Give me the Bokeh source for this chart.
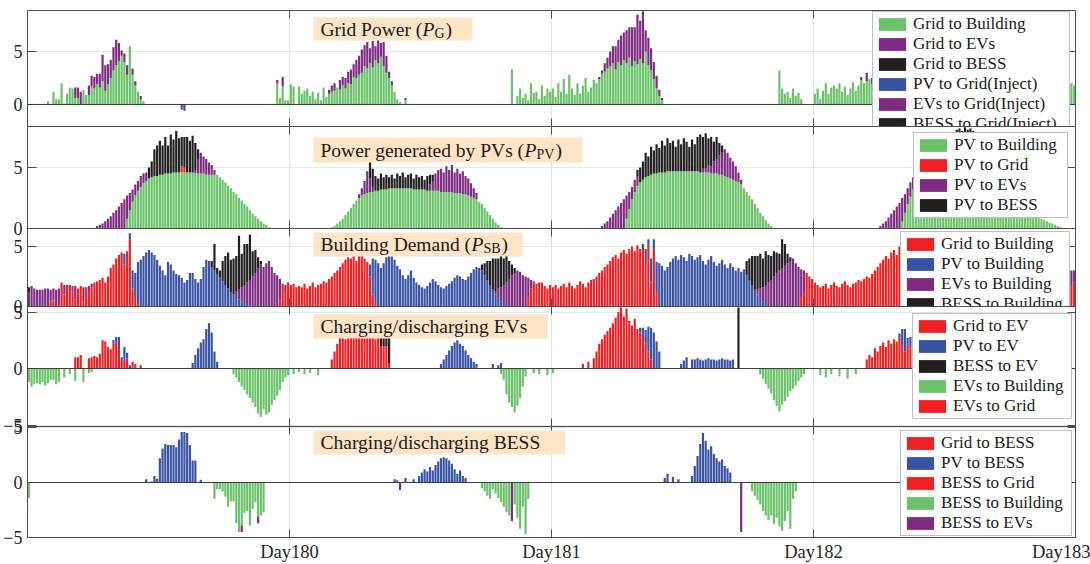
import numpy as np
from bokeh.plotting import figure
from bokeh.layouts import column
from bokeh.models import (ColumnDataSource, Legend, LegendItem, FixedTicker, LinearAxis,
                          Label, Span, Range1d, BoxAnnotation)
from bokeh.embed import file_html
from bokeh.resources import INLINE

# ---------------------------------------------------------------------------
# Time axis: 15-minute steps from Day179 00:00 to Day183 00:00
# ---------------------------------------------------------------------------
N_STEPS = 384
STEPS_PER_DAY = 96
FIRST_DAY = 179
DAY_TICKS = [180, 181, 182, 183]
DAY_LABELS = ["Day180", "Day181", "Day182", "Day183"]

GREEN = "#6cc26a"
PURPLE = "#7e2b83"
BLACK = "#231f20"
BLUE = "#3953a4"
RED = "#ed2024"

# Each series is stored as runs: (first step index, [kW values ...]); other steps are 0.

# --- Grid power --------------------------------------------------------------
GRID_TO_BUILDING = [
    (7, [0.3, 0, 1.2, 0.5, 0.5, 2.0, 0.1, 1.0, 1.6, 1.5, 0.6, 0.6, 0.0, 1.4, 0.9, 0.9, 1.7, 1.5,
         1.9, 1.6, 2.2, 1.3, 1.9, 2.5, 3.2, 3.7, 4.1, 4.6, 4.0, 2.8, 5.5, 2.8, 1.8, 1.2, 0.5, 0.3]),
    (91, [2.0, 0.6, 1.7, 0.4, 0.4, 1.9, 1.7, 0.0, 1.7, 1.0, 1.3, 1.5, 0.8, 1.2, 0.5, 1.1, 0.4, 1.6,
          0.7, 1.0, 1.2, 1.3, 1.6, 1.4, 1.8, 1.5, 2.0, 1.9, 2.6, 2.5, 2.8, 3.0, 3.6, 3.4, 3.9, 3.5,
          4.2, 3.9, 4.5, 3.6, 3.0, 2.5, 1.8, 1.2, 0.5, 0.2, 0.0, 0.4]),
    (177, [3.3, 0, 0.8, 1.5, 0.6, 1.0, 0.4, 2.0, 1.1, 1.2, 0.5, 1.8, 0.8, 1.5, 1.2]),
    (192, [1.5, 0.7, 2.0, 1.2, 2.4, 1.0, 2.8, 1.5, 0.9, 2.0, 1.0, 1.8, 2.5, 1.2, 1.6, 2.3,
           2.0, 2.4, 2.9, 3.1, 3.4, 3.6, 3.9, 3.3, 4.0, 3.7, 4.2, 3.9, 4.4, 3.6, 4.1, 3.8, 4.3,
           3.9, 5.0, 3.7, 3.2, 2.4, 1.5, 0.8, 0.4]),
    (275, [3.2, 1.5, 1.0, 1.2, 0.6, 1.5, 0.8, 1.1, 0.5]),
    (288, [1.0, 1.5, 0.5, 1.3, 2.0, 1.0, 1.6, 1.8, 1.5, 2.0, 1.2, 1.7, 0.9, 1.5, 2.1, 1.3, 1.8,
           2.3, 2.0, 2.2, 2.4, 1.9]),
    (310, [2.6, 2.9, 3.1, 3.4, 3.2, 3.8, 3.6, 4.0, 3.5, 4.2, 3.7, 3.9, 3.3, 2.6, 1.8, 1.0, 0.4]),
    (378, [1.4, 1.8, 1.6, 1.9, 2.0, 1.8]),
]
GRID_TO_EVS = [
    (17, [1.0, 1.0, 1.2, 0, 0, 0.9, 1.0, 1.1, 1.0, 1.3, 2.5, 2.4, 1.9, 1.7, 2.2, 2.4, 1.7, 0.5,
          0.8, 0.9, 0, 0.6, 0.4, 0, 0.3]),
    (91, [0.3, 0, 0.9]),
    (110, [0.4, 0.6, 0.7, 0, 0.9, 0.8, 1.0, 1.1, 1.4, 1.2, 1.7, 1.8, 2.2, 2.0, 2.5, 1.4, 2.5, 1.3,
           2.2, 1.3, 2.3, 1.6, 0.6, 0.4, 0, 0, 0, 0, 0.2]),
    (208, [0, 0.2, 0.3, 0.8, 1.0, 1.4, 1.6, 2.2, 2.1, 2.8, 2.6, 3.1, 2.9, 3.7, 3.2, 4.7, 3.6,
           4.9, 2.0, 2.6, 2.1, 1.6, 1.2, 0.6, 0.2]),
    (305, [0.3, 0, 0.8, 0, 0.6, 1.2, 1.5, 2.0, 2.4, 2.2, 2.8, 3.0, 2.5, 2.0, 1.4, 0.9, 0.4]),
]
GRID_TO_BESS = []
PV_TO_GRID_INJ = [(56, [-0.5, -0.6])]
EVS_TO_GRID_INJ = []
BESS_TO_GRID_INJ = []

# --- PV generation -----------------------------------------------------------
PV_TO_BUILDING = [
    (36, [0.8, 1.5, 2.2, 2.7, 3.1, 3.4, 3.7, 3.9, 4.1, 4.2, 4.3, 4.3, 4.4, 4.4, 4.5, 4.5, 4.5,
          4.6, 4.6, 4.6, 4.6, 4.6, 4.6, 4.6, 4.6, 4.5, 4.5, 4.5, 4.5, 4.4, 4.4, 4.4, 4.4, 4.4,
          4.2, 4.0, 3.8, 3.5, 3.3, 3.0, 2.8, 2.5, 2.3, 2.0, 1.8, 1.5, 1.2, 1.0, 0.8, 0.6, 0.4,
          0.3, 0.1]),
    (111, [0.1, 0.2, 0.4, 0.6, 0.8, 1.1, 1.4, 1.7, 2.0, 2.3, 2.5, 2.7, 2.8, 2.9, 3.0, 3.0, 3.1,
           3.1, 3.2, 3.2, 3.2, 3.3, 3.3, 3.3, 3.3, 3.3, 3.3, 3.3, 3.3, 3.3, 3.2, 3.2, 3.2, 3.2,
           3.2, 3.1, 3.1, 3.1, 3.1, 3.1, 3.0, 3.0, 3.0, 3.0, 3.0, 2.9, 2.9, 2.9, 2.8, 2.8, 2.7,
           2.6, 2.5, 2.4, 2.2, 2.0, 1.7, 1.4, 1.1, 0.8, 0.5, 0.3, 0.1]),
    (219, [0.8, 1.6, 2.4, 3.0, 3.5, 3.8, 4.0, 4.2, 4.3, 4.4, 4.5, 4.5, 4.6, 4.6, 4.6, 4.7, 4.7,
           4.7, 4.7, 4.7, 4.7, 4.7, 4.7, 4.7, 4.7, 4.7, 4.7, 4.6, 4.6, 4.6, 4.6, 4.5, 4.5, 4.5,
           4.4, 4.4, 4.3, 4.2, 4.1, 4.0, 3.9, 3.8, 3.6, 3.3, 3.0, 2.7, 2.4, 2.0, 1.7, 1.3, 1.0,
           0.7, 0.4, 0.2]),
    (320, [0.6, 1.3, 2.0, 2.6, 3.2, 3.6, 4.0, 4.3, 4.5, 4.6, 4.7, 4.8, 4.8, 4.8, 4.8, 4.8, 4.8,
           4.8, 4.8, 4.8, 4.8, 4.8, 4.8, 4.8, 4.8, 4.8, 4.8, 4.8, 4.6, 4.5, 4.4, 4.3, 4.2, 4.0,
           3.9, 3.7, 3.6, 3.5, 3.3, 3.1, 2.9, 2.7, 2.5, 2.3, 2.1, 1.9, 1.7, 1.5, 1.3, 1.1, 0.9,
           0.8, 0.7, 0.6, 0.5, 0.4, 0.3, 0.2, 0.1]),
]
PV_TO_GRID = [(56, [0.5, 0.4])]
PV_TO_EVS = [
    (25, [0.2, 0.3, 0.4, 0.6, 0.8, 1.0, 1.3, 1.5, 1.8, 2.1, 2.4, 1.9, 1.4, 1.0, 0.9, 0.8, 0.9,
          0.8, 0.7]),
    (61, [0.3, 1.2, 1.7, 1.4, 1.3, 1.0, 0.8, 0.4]),
    (121, [0.3, 0.6, 1.1, 1.8, 1.1, 0.4]),
    (147, [0.5, 0.8, 1.4, 1.7, 1.9, 1.6, 2.1, 1.8, 2.2, 1.7, 2.0, 1.6, 1.9, 1.5, 1.4, 1.1, 0.8,
           0.5]),
    (210, [0.2, 0.4, 0.6, 0.9, 1.2, 1.5, 1.8, 2.1, 2.4, 1.9, 1.4, 1.0, 1.0, 0.8]),
    (247, [0.3, 0.3, 0.6, 0.6, 1.0, 1.2, 1.6, 1.8, 2.2, 2.0, 1.7, 1.5, 1.2, 0.8, 0.4]),
    (312, [0.2, 0.4, 0.6, 0.9, 1.2, 1.5, 1.8, 2.1, 1.9, 1.5, 1.3, 1.2, 1.0, 0.8]),
    (348, [1.2, 1.6, 1.9, 2.0, 1.7, 1.5, 1.2, 0.9, 0.6, 0.3]),
]
PV_TO_BESS = [
    (44, [0.9, 1.3, 2.2, 2.5, 2.8, 2.4, 3.0, 2.3, 3.2, 2.7, 3.4, 2.8, 2.4, 2.5, 2.9, 2.6, 3.0,
          2.2, 0.8]),
    (125, [1.4, 1.5, 1.2, 1.0, 1.3, 1.0, 1.2, 0.9, 1.1, 0.8, 1.2, 1.0, 1.3, 0.9, 1.1, 1.2, 0.9,
           1.2, 1.0, 1.1, 0.8, 1.2, 0.8, 0.5]),
    (223, [0.5, 1.2, 1.5, 2.0, 1.6, 2.3, 1.9, 2.4, 2.0, 2.6, 2.2, 2.7, 2.3, 2.5, 2.0, 2.6, 2.2,
           2.7, 2.4, 2.0, 2.6, 2.2, 2.8, 3.1, 2.6, 2.9, 2.2, 2.4, 1.6, 1.8, 1.0, 0.6]),
    (326, [1.0, 1.5, 2.0, 2.4, 2.2, 2.6, 2.3, 2.8, 2.5, 2.9, 2.7, 3.0, 2.8, 3.1, 3.3, 3.4, 3.2,
           3.5, 3.3, 3.4, 3.2, 2.8]),
]

# --- Building demand ---------------------------------------------------------
SB_FROM_GRID = [
    (8, [0.4, 0.5, 0, 0.3, 2.0, 1.0, 1.8, 1.3, 1.7, 0.6, 1.5, 1.7, 0.4, 1.6, 1.3, 1.6, 2.0, 2.1,
         2.2, 2.4, 2.0, 2.5, 3.2, 3.5, 4.0, 4.3, 4.5, 3.5, 4.6, 5.6, 1.5, 0.8, 0.3]),
    (92, [0.5, 1.9, 1.2, 2.0, 1.8, 1.9, 1.6, 1.7, 1.6, 1.9, 1.5, 1.7, 2.0, 1.6, 1.8, 1.9, 2.1,
          2.0, 2.3, 2.5, 2.8, 3.0, 3.3, 3.6, 3.9, 4.1, 4.0, 4.3, 3.8, 4.2, 4.4, 4.0, 3.7, 2.5,
          1.0, 0.3]),
    (183, [0.8, 1.5, 2.1, 1.9, 1.6, 2.0, 1.7, 1.5, 1.8, 1.6, 1.8, 1.5, 1.7, 1.9, 1.6, 2.0, 1.7,
           1.5, 1.8, 2.1, 1.9, 1.6, 2.0, 2.2, 2.3, 2.5, 2.8, 3.0, 3.3, 3.5, 3.8, 4.1, 4.3, 4.0,
           4.5, 4.7, 4.4, 4.8, 5.0, 4.6, 5.1, 4.8, 4.7, 3.8, 5.2, 2.0, 4.8, 1.2]),
    (283, [0.8, 1.2, 2.8, 2.5, 2.3, 2.0, 1.8, 1.6, 1.7, 1.9, 1.5, 1.8, 2.0, 1.7, 1.6, 1.9, 2.1,
           1.8, 1.6, 1.9, 2.0, 2.2, 2.1, 2.3, 2.5, 2.4, 2.7, 3.0, 3.3, 3.6, 3.9, 4.2, 4.0, 4.5,
           4.7, 4.3, 5.0, 4.4, 3.6, 2.2, 1.0]),
    (370, [0.5, 1.0, 1.4, 1.8, 1.6, 2.0, 1.9, 1.7, 2.1, 1.8, 2.0, 1.9, 1.8, 2.0]),
]
SB_FROM_PV = [
    (35, [0.9, 0, 0.5, 1.5, 2.0, 3.4, 3.9, 4.2, 4.5, 4.7, 4.5, 4.3, 3.9, 3.4, 3.0, 2.6, 3.7, 3.5,
          3.0, 2.7, 2.6, 2.4, 2.0, 2.2, 2.8, 2.8, 2.3, 2.0, 2.3, 3.3, 3.9, 3.8, 3.3, 3.0, 2.7,
          2.4, 2.1, 1.8, 1.5, 1.2, 1.0, 0.8, 0.6, 0.4, 0.3, 0.2, 0.1]),
    (125, [1.0, 3.0, 3.6, 3.6, 3.2, 3.6, 4.1, 4.4, 4.6, 3.9, 3.4, 3.1, 2.6, 2.3, 2.6, 3.0, 2.4,
           2.0, 1.8, 1.6, 1.5, 1.7, 2.0, 2.3, 2.1, 1.8, 1.6, 1.5, 1.7, 1.9, 2.1, 2.4, 2.6, 2.5,
           2.3, 2.2, 2.5, 2.8, 3.1, 3.3, 3.2, 3.0, 2.6, 2.2, 1.8, 1.4, 1.0, 0.7, 0.4, 0.2]),
    (225, [0.5, 1.0, 0.4, 2.0, 0.8, 2.5, 3.6, 3.4, 3.0, 3.3, 3.7, 4.0, 4.2, 3.9, 4.3, 4.1, 3.8,
           4.4, 4.2, 3.9, 4.1, 4.3, 3.8, 3.5, 3.9, 4.2, 3.7, 3.4, 3.6, 3.9, 3.5, 3.2, 3.6, 3.3,
           3.0, 3.2, 2.9, 3.1, 2.6, 2.2, 1.8, 1.4, 1.0, 0.7, 0.4, 0.2]),
    (320, [0.6, 1.2, 2.4, 3.4, 3.9, 4.1, 3.8, 4.2, 4.0, 3.7, 4.3, 4.1, 3.9, 3.6, 3.8, 4.0, 3.5,
           3.3, 3.6, 3.2, 3.0, 2.6, 2.2, 1.8, 1.4, 1.0, 0.6, 0.3]),
]
SB_FROM_EVS = [
    (0, [1.2, 1.7, 1.5, 1.4, 1.4, 1.4, 1.5, 1.5, 1.0, 1.0, 1.4, 1.2, 0, 0.8, 0, 0.5, 0, 1.1, 0,
         0, 1.2, 0, 0.4, 0.3]),
    (76, [0.5, 0.8, 1.2, 1.5, 1.8, 2.1, 2.5, 2.8, 3.2, 3.5, 3.3, 3.6, 3.8, 3.3, 2.8, 2.6, 1.8, 0,
          0.6]),
    (171, [0.3, 0.8, 1.2, 1.6, 2.0, 2.3, 2.6, 2.8, 3.0, 2.9, 2.6, 2.5, 1.6, 0.7, 0, 0, 0.4]),
    (267, [0.4, 0.8, 1.2, 1.6, 2.0, 2.2, 2.5, 2.8, 3.0, 3.2, 3.4, 3.6, 3.8, 4.0, 3.6, 3.3, 2.3,
           1.8]),
    (350, [0.5, 1.0, 1.4, 1.8, 2.2, 2.5, 2.8, 3.1, 3.4, 3.6, 3.8, 3.5, 3.2, 2.8, 2.4, 2.0, 1.6,
           1.4, 1.2, 1.0, 0.8, 0.6, 0.4, 0.2, 0, 0, 0, 0, 0, 0, 0, 0, 1.2, 1.0]),
]
SB_FROM_BESS = [
    (0, [0.4]),
    (67, [0.5, 2.2, 0.5, 0.6, 1.7, 2.4, 3.0, 2.7, 3.0, 2.9, 4.5, 2.8, 3.4, 3.2, 3.8, 2.1, 1.9,
          0.9, 0.3]),
    (166, [0.5, 1.0, 1.6, 2.0, 2.6, 2.7, 2.5, 2.8, 2.2, 2.5, 1.5, 0.9, 0.4]),
    (263, [1.2, 1.8, 2.4, 2.8, 2.8, 2.9, 2.4, 2.8, 2.3, 2.0, 2.1, 1.7, 1.4, 2.4, 1.8, 0.8, 0.3]),
    (345, [0.8, 1.5, 2.2, 2.8, 2.5, 2.9, 2.6, 2.2, 1.8, 1.4, 1.0, 0.6, 0.3]),
]

# --- EV charging (+) / discharging (-) ---------------------------------------
EV_FROM_GRID = [
    (17, [1.0, 1.0, 1.2, 0, 0, 0.9, 1.0, 1.1, 1.0, 1.3, 2.5, 2.4, 1.9, 1.7, 2.2, 2.4, 1.7, 0.5,
          0.8, 0.9, 0, 0.6, 0.4, 0, 0.3]),
    (111, [0.8, 1.5, 2.2, 2.8, 3.0, 2.6, 3.0, 2.9, 3.0, 2.7, 3.0, 3.0, 2.8, 3.0, 2.9, 3.0, 2.6,
           3.0, 2.0, 2.0, 2.0, 0.5]),
    (203, [0.4, 0, 0.6, 0, 0.9, 1.5, 2.2, 2.6, 3.0, 3.3, 3.6, 4.0, 4.5, 5.0, 5.4, 4.6, 5.3, 4.2,
           3.8, 4.4, 3.5, 3.2, 2.8, 2.2, 1.5, 0.8]),
    (307, [0.8, 1.2, 1.0, 1.8, 1.5, 2.0, 2.3, 1.9, 2.5, 2.2, 2.6, 2.4, 2.8, 2.0, 1.5, 2.2, 1.8,
           1.4, 1.0, 0.6]),
]
EV_FROM_PV = [
    (31, [0.3, 0.4, 1.1, 0.5, 1.1, 0.5, 0.3]),
    (60, [0.5, 1.2, 1.8, 2.3, 2.6, 3.5, 4.0, 3.2, 1.5, 0.6]),
    (151, [0.4, 0.8, 1.2, 1.6, 2.0, 2.3, 2.5, 2.2, 2.0, 1.6, 1.2, 0.9, 0.6, 0.4]),
    (170, [0.4, 0, 0.3, 0.5]),
    (224, [0.4, 0.8, 1.2, 2.2, 2.8, 3.2, 2.4, 1.5]),
    (239, [0.4, 0.7, 1.0, 0, 0.8, 0.8, 0.9, 0.8, 0.7, 0.8, 0.9, 0.8, 0.8, 0.7, 0.8, 0.9, 0.8,
           0.8, 0.7, 0.8]),
    (319, [0.3, 1.5, 2.0, 0.5, 1.0, 1.5, 2.0, 2.5, 2.8, 3.0, 2.6, 2.0, 1.4, 0.8]),
]
EV_FROM_BESS = [(129, [1.0, 0.9, 1.0, 2.4]), (260, [5.4])]
EV_TO_BUILDING = [
    (0, [-1.2, -1.6, -1.4, -1.3, -1.4, -1.2, -1.5, -1.3, -1.0, -1.0, -1.4, -1.2, 0, -0.8, 0,
         -0.5, 0, -1.1, 0, 0, -1.2, 0, -0.4, -0.3]),
    (75, [-0.5, -0.8, -1.2, -1.6, -1.9, -2.3, -2.6, -3.0, -3.4, -4.0, -4.3, -3.6, -4.1, -3.9,
          -3.2, -2.8, -2.4, -1.9, -1.2, -0.8, -0.6, 0, -0.5, 0, -0.3, 0, -0.5, 0, -0.4, 0, 0,
          -0.6]),
    (173, [-0.5, -1.0, -2.3, -3.0, -3.4, -3.9, -3.3, -2.6, -1.6, -0.7]),
    (185, [-0.4, 0, -0.5, 0, 0, -0.6, 0, -0.4]),
    (268, [-0.5, -0.9, -1.4, -1.8, -2.2, -2.8, -3.3, -3.8, -3.2, -2.9, -2.5, -2.0, -1.8, -1.5,
           -1.1, -0.8, -0.5]),
    (290, [-0.6, 0, -0.8, 0, -0.5, 0, 0, -0.7, 0, 0, -0.9, 0, 0, -0.5]),
    (355, [-0.6, -1.2, -1.8, -2.4, -3.0, -3.5, -3.8, -3.4, -2.9, -2.4, -1.9, -1.5, -1.1, -0.7,
           -0.4]),
]
EV_TO_GRID = []

# --- BESS charging (+) / discharging (-) -------------------------------------
BESS_FROM_GRID = []
BESS_FROM_PV = [
    (43, [0.3, 0, 0.1, 0.6, 0.35, 2.2, 3.1, 3.5, 3.4, 3.4, 3.4, 3.2, 3.9, 4.6, 4.6, 4.5, 3.4,
          2.0, 2.0, 0, 0.25]),
    (134, [0.3, 0.2, 0, 0, 0.4, 0, 0, 0.3, 0, 0.6, 0.9, 1.2, 1.0, 1.4, 1.1, 1.6, 1.9, 2.2, 2.3,
           2.2, 2.0, 1.7, 1.2, 0.8, 1.1, 0.6, 0.4]),
    (233, [0.4, 0.8, 0, 0.5, 0, 0.3, 0, 0, 0, 0, 0.6, 1.5, 2.4, 3.5, 4.5, 3.8, 3.0, 3.3, 2.6,
           2.2, 1.9, 2.1, 1.5, 1.3, 0.9]),
    (330, [0.5, 1.2, 2.0, 2.8, 3.3, 3.6, 3.5, 3.8, 4.2, 4.5, 4.7, 4.4, 3.6, 2.5, 1.6, 0.8]),
]
BESS_TO_GRID = []
BESS_TO_BUILDING = [
    (0, [-1.4]),
    (68, [-1.5, -0.6, -0.6, -0.8, -1.3, -2.2, -1.7, -1.7, -3.7, -4.5, -3.9, -2.8, -2.6, -3.9,
          -2.4, -1.8, -3.1, -3.0, -2.7]),
    (166, [-0.5, -0.8, -1.2, -1.5, -0.6, -1.0, -1.4, -1.8, -2.2, -2.7, -3.0, 0, -2.0, -3.2,
           -4.2, -2.2, -4.7, -1.5]),
    (265, [-0.8, -1.2, -1.6, -2.0, -2.6, -3.0, -3.4, -3.0, -3.8, -3.2, -4.0, -4.4, -3.5, -2.6,
           -4.2, -1.5, -0.8]),
    (356, [-0.8, -1.6, -2.4, -3.2, -2.8, -3.6, -4.1, -3.3, -2.5, -1.8, -1.0]),
]
BESS_TO_EVS = [(78, [-0.6]), (84, [-0.6]), (136, [-0.7]), (177, [-3.5]), (261, [-4.5])]


def expand(runs):
    """Turn a list of (start, values) runs into a full 15-minute series."""
    out = np.zeros(N_STEPS)
    for start, vals in runs:
        out[start:start + len(vals)] = vals
    return out


FONT = "Liberation Serif"
AXIS_GREY = "#4d4d4d"
x_time = FIRST_DAY + (np.arange(N_STEPS) + 0.5) / STEPS_PER_DAY
BAR_W = 0.8 / STEPS_PER_DAY
shared_x = Range1d(FIRST_DAY, FIRST_DAY + 4)
EDGE = 10   # transparent strip above/below each frame so edge tick labels stay whole
ROW_H = 20  # legend row pitch
LEG_PAD = 2


def tick_only_axis(ticks):
    """Axis that draws inward tick marks only (box-style frame ticks)."""
    return LinearAxis(ticker=FixedTicker(ticks=ticks),
                      major_label_overrides={t: "" for t in ticks},
                      major_label_text_font_size="0px", major_label_standoff=0,
                      major_tick_in=8, major_tick_out=0, minor_tick_line_color=None,
                      axis_line_color=None, major_tick_line_color=AXIS_GREY)


def make_panel(frame_h, y0, y1, yticks, top=EDGE, bottom=EDGE, with_days=False):
    p = figure(width=1090, height=frame_h + top + bottom, x_range=shared_x,
               y_range=Range1d(y0, y1), output_backend="svg", toolbar_location=None,
               min_border_left=27, min_border_right=15, min_border_top=top,
               min_border_bottom=bottom, outline_line_color=AXIS_GREY,
               background_fill_color="white", border_fill_color=None)
    p.yaxis.ticker = FixedTicker(ticks=yticks)
    p.yaxis.major_tick_in = 9
    p.yaxis.major_tick_out = 0
    p.yaxis.minor_tick_line_color = None
    p.yaxis.major_label_standoff = 5
    p.yaxis.axis_line_color = AXIS_GREY
    p.yaxis.major_tick_line_color = AXIS_GREY
    p.yaxis.major_label_text_font = FONT
    p.yaxis.major_label_text_font_size = "18px"
    p.yaxis.major_label_text_color = "#262626"
    p.ygrid.ticker = FixedTicker(ticks=yticks)
    p.ygrid.grid_line_color = "#e6e6e6"
    p.xaxis.ticker = FixedTicker(ticks=DAY_TICKS)
    p.xgrid.ticker = FixedTicker(ticks=DAY_TICKS)
    p.xgrid.grid_line_color = "#e3e3e3"
    if with_days:
        p.xaxis.major_label_overrides = dict(zip(DAY_TICKS, DAY_LABELS))
        p.xaxis.major_tick_in = 8
        p.xaxis.major_tick_out = 0
        p.xaxis.minor_tick_line_color = None
        p.xaxis.major_label_standoff = 4
        p.xaxis.axis_line_color = AXIS_GREY
        p.xaxis.major_tick_line_color = AXIS_GREY
        p.xaxis.major_label_text_font = FONT
        p.xaxis.major_label_text_font_size = "18.5px"
        p.xaxis.major_label_text_color = "#262626"
    else:
        p.xaxis.visible = False
        p.add_layout(tick_only_axis(DAY_TICKS), "below")
    p.add_layout(tick_only_axis(DAY_TICKS), "above")
    p.add_layout(tick_only_axis(yticks), "right")
    return p


def add_bars(p, pos, neg):
    """pos / neg: lists of (label, runs, colour); returns renderers in legend order."""
    data = {"x": x_time}
    renderers = []
    for group in (pos, neg):
        if not group:
            continue
        names = []
        for label, runs, colour in group:
            key = "s%d" % len(data)
            data[key] = expand(runs)
            names.append(key)
        src = ColumnDataSource(data={k: data[k] for k in ["x"] + names})
        rs = p.vbar_stack(names, x="x", width=BAR_W, source=src,
                          fill_color=[c for _, _, c in group], line_color=None)
        renderers.extend(zip([lab for lab, _, _ in group], rs))
    return renderers


def add_legend(p, items, frame_h, left, top_gap, label_w):
    """Legend box placed by its left edge and its gap below the frame top (px)."""
    height = len(items) * ROW_H + 2 * LEG_PAD
    leg = Legend(items=[LegendItem(label=lab, renderers=[r]) for lab, r in items],
                 location=(left, frame_h - top_gap - height), padding=LEG_PAD, spacing=0,
                 glyph_width=34, glyph_height=16, label_height=16, label_standoff=4,
                 label_width=label_w,
                 label_text_font=FONT, label_text_font_size="17px",
                 label_text_color="#1a1a1a", border_line_color="#808080",
                 border_line_width=1, background_fill_color="white",
                 background_fill_alpha=1.0)
    p.add_layout(leg)


def add_title(p, left, right, bottom, top, parts):
    p.add_layout(BoxAnnotation(left=left, right=right, bottom=bottom, top=top,
                               left_units="screen", right_units="screen",
                               bottom_units="screen", top_units="screen",
                               fill_color="#fde4c6", fill_alpha=1.0, line_color=None))
    mid = (bottom + top) / 2
    for text, dx, dy, size, style in parts:
        p.add_layout(Label(x=left + dx, y=mid + dy, x_units="screen", y_units="screen",
                           text=text, text_font=FONT, text_font_size=size,
                           text_font_style=style, text_baseline="middle",
                           text_align="left", text_color="#1a1a1a"))


def zero_line(p):
    p.add_layout(Span(location=0, dimension="width", line_color="#3a3a3a", line_width=1))


TS = "19.5px"   # title size
SUB = "14px"    # subscript size

# Panel 1: grid power
p1 = make_panel(116, -2.08, 8.87, [0, 5], top=10)
zero_line(p1)
r1 = add_bars(p1,
              [("Grid to Building", GRID_TO_BUILDING, GREEN),
               ("Grid to EVs", GRID_TO_EVS, PURPLE),
               ("Grid to BESS", GRID_TO_BESS, BLACK)],
              [("PV to Grid(Inject)", PV_TO_GRID_INJ, BLUE),
               ("EVs to Grid(Inject)", EVS_TO_GRID_INJ, PURPLE),
               ("BESS to Grid(Inject)", BESS_TO_GRID_INJ, BLACK)])
add_title(p1, 286, 445, 86, 109,
          [("Grid Power (", 7, 0, TS, "normal"), ("P", 109, 0, TS, "italic"),
           ("G", 121, -4, SUB, "normal"), (")", 132, 0, TS, "normal")])
add_legend(p1, r1, 116, 845, 3, 154)

# Panel 2: PV generation
p2 = make_panel(102, 0, 8.36, [0, 5])
r2 = add_bars(p2,
              [("PV to Building", PV_TO_BUILDING, GREEN),
               ("PV to Grid", PV_TO_GRID, RED),
               ("PV to EVs", PV_TO_EVS, PURPLE),
               ("PV to BESS", PV_TO_BESS, BLACK)], [])
add_title(p2, 286, 555, 66, 91,
          [("Power generated by PVs (", 7, 0, TS, "normal"),
           ("P", 211, 0, TS, "italic"), ("PV", 223, -4, SUB, "normal"),
           (")", 242, 0, TS, "normal")])
add_legend(p2, r2, 102, 886, 8, 111)

# Panel 3: building demand
p3 = make_panel(78, 0, 6.5, [0, 5])
r3 = add_bars(p3,
              [("Grid to Building", SB_FROM_GRID, RED),
               ("PV to Building", SB_FROM_PV, BLUE),
               ("EVs to Building", SB_FROM_EVS, PURPLE),
               ("BESS to Building", SB_FROM_BESS, BLACK)], [])
add_title(p3, 286, 495, 50, 74,
          [("Building Demand (", 7, 0, TS, "normal"), ("P", 158, 0, TS, "italic"),
           ("SB", 170, -4, SUB, "normal"), (")", 188, 0, TS, "normal")])
add_legend(p3, r3, 78, 873, 5, 126)

# Panel 4: EV charging / discharging
p4 = make_panel(120, -5.13, 5.49, [-5, 0, 5])
zero_line(p4)
r4 = add_bars(p4,
              [("Grid to EV", EV_FROM_GRID, RED),
               ("PV to EV", EV_FROM_PV, BLUE),
               ("BESS to EV", EV_FROM_BESS, BLACK)],
              [("EVs to Building", EV_TO_BUILDING, GREEN),
               ("EVs to Grid", EV_TO_GRID, RED)])
add_title(p4, 286, 520, 88, 112, [("Charging/discharging EVs", 7, 0, TS, "normal")])
add_legend(p4, r4, 120, 885, 9, 116)

# Panel 5: BESS charging / discharging
p5 = make_panel(113, -5.0, 5.09, [-5, 0, 5], bottom=25, with_days=True)
zero_line(p5)
r5 = add_bars(p5,
              [("Grid to BESS", BESS_FROM_GRID, RED),
               ("PV to BESS", BESS_FROM_PV, BLUE)],
              [("BESS to Grid", BESS_TO_GRID, RED),
               ("BESS to Building", BESS_TO_BUILDING, GREEN),
               ("BESS to EVs", BESS_TO_EVS, PURPLE)])
add_title(p5, 286, 538, 83, 107, [("Charging/discharging BESS", 7, 0, TS, "normal")])
add_legend(p5, r5, 113, 873, 8, 128)

# Panels touch frame-to-frame; the transparent edge strips overlap the neighbour.
for p in (p2, p3, p4, p5):
    p.margin = (-2 * EDGE, 0, 0, 0)

layout = column(p1, p2, p3, p4, p5, spacing=0)
open("out.html", "w").write(file_html(layout, INLINE))
